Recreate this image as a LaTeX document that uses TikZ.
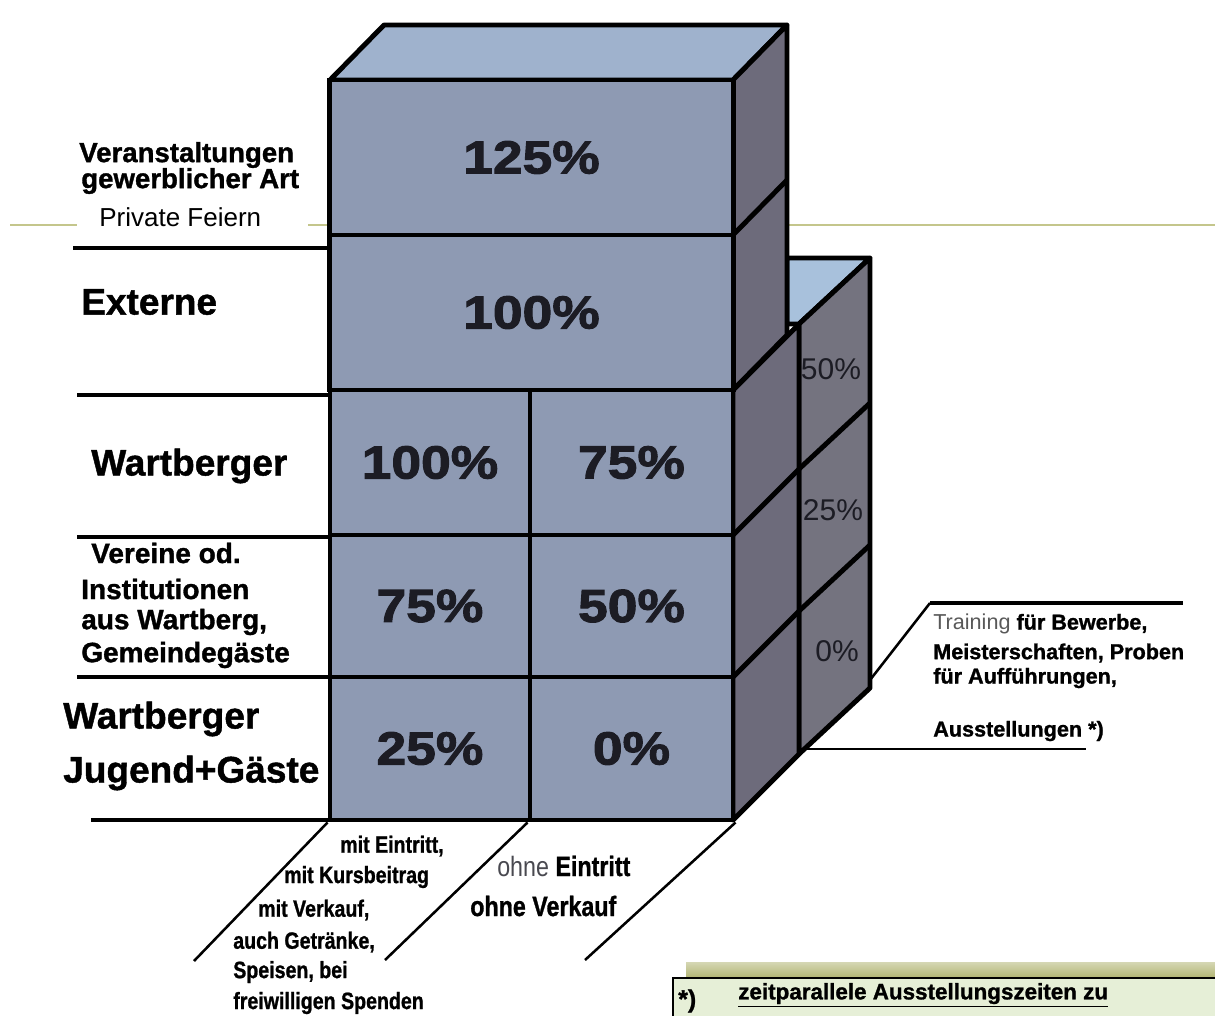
\documentclass[tikz,border=0pt]{standalone}
\usepackage{fontspec}
\setmainfont{Liberation Sans}[BoldFeatures={FakeBold=1.2}]
\newfontfamily\widefont{Liberation Sans}[FakeStretch=1.15, BoldFeatures={FakeStretch=1.15, FakeBold=2.2}]
\newfontfamily\narrowfont{Liberation Sans}[FakeStretch=0.83, BoldFeatures={FakeStretch=0.83, FakeBold=1}]
\usepackage{xcolor}
\usepackage{tikz}
\definecolor{frontcolor}{HTML}{8E9AB3}
\definecolor{topcolor}{HTML}{9FB2CD}
\definecolor{sidecolor}{HTML}{6D6B7B}
\definecolor{smalltopcolor}{HTML}{A8C1DC}
\definecolor{smallsidecolor}{HTML}{74737F}
\definecolor{olivecolor}{HTML}{C4C68C}
\definecolor{bandcolor}{HTML}{B3B676}
\definecolor{notecolor}{HTML}{E6EFD7}
\definecolor{inkcolor}{HTML}{1C1C24}
\begin{document}
\begin{tikzpicture}[x=0.025cm, y=-0.025cm,
  cubeline/.style={line width=3.5pt, line join=round},
  cellbox/.style={draw, rectangle, line width=3.5pt, fill=frontcolor, inner sep=0pt, text=inkcolor, font=\widefont\bfseries\fontsize{1.16cm}{1.4cm}\selectfont},
  rowrule/.style={line width=2.8pt},
  guideline/.style={line width=1.8pt},
  bigtag/.style={anchor=west, inner sep=0pt, font=\bfseries\fontsize{0.925cm}{1.1cm}\selectfont},
  midtag/.style={anchor=west, inner sep=0pt, font=\bfseries\fontsize{0.7cm}{0.84cm}\selectfont},
  smallpct/.style={inner sep=0pt, text=inkcolor, font=\fontsize{0.75cm}{0.9cm}\selectfont},
  listtag/.style={anchor=west, inner sep=0pt, font=\narrowfont\bfseries\fontsize{0.59cm}{0.7cm}\selectfont},
  lowtag/.style={anchor=west, inner sep=0pt, font=\narrowfont\fontsize{0.7cm}{0.84cm}\selectfont},
  sidetag/.style={anchor=west, inner sep=0pt, font=\bfseries\fontsize{0.54cm}{0.65cm}\selectfont}]%
\useasboundingbox (0,0) rectangle (1215,1015);%
\clip (0,0) rectangle (1215,1015);%
\draw[line width=2.1pt, olivecolor] (10,225) -- (77,225);%
\draw[line width=2.1pt, olivecolor] (308,225) -- (1215,225);%
\draw[rowrule] (73,248) -- (330,248);%
\draw[rowrule] (77,395) -- (330,395);%
\draw[rowrule] (77,537) -- (330,537);%
\draw[rowrule] (77,677) -- (330,677);%
\draw[rowrule] (91,820) -- (330,820);%
\draw[cubeline, fill=smalltopcolor] (787,258) -- (870,258) -- (799,324) -- (787,324) -- cycle;%
\draw[cubeline, fill=smallsidecolor] (799,324) -- (870,258) -- (870,688) -- (799,754) -- cycle;%
\node[smallpct] (p50) at (831,369) {50\%};%
\node[smallpct] (p25) at (833,510) {25\%};%
\node[smallpct] (p0) at (837,651) {0\%};%
\draw[cubeline] (799,469) -- (870,403);%
\draw[cubeline] (799,611) -- (870,545);%
\draw[cubeline, fill=sidecolor] (733,390) -- (799,324) -- (799,754) -- (733,820) -- cycle;%
\draw[cubeline] (733,535) -- (799,469);%
\draw[cubeline] (733,677) -- (799,611);%
\draw[cubeline, fill=topcolor] (330,80) -- (384,25) -- (787,25) -- (733,80) -- cycle;%
\draw[cubeline, fill=sidecolor] (733,80) -- (787,25) -- (787,335) -- (733,390) -- cycle;%
\draw[cubeline] (733,235) -- (787,180);%
\node[cellbox, minimum width=10.075cm, minimum height=3.875cm] (r1) at (531.5,157.5) {125\%};%
\node[cellbox, minimum width=10.075cm, minimum height=3.875cm] (r2) at (531.5,312.5) {100\%};%
\node[cellbox, minimum width=5cm, minimum height=3.625cm] (r3a) at (430,462.5) {100\%};%
\node[cellbox, minimum width=5.075cm, minimum height=3.625cm] (r3b) at (631.5,462.5) {75\%};%
\node[cellbox, minimum width=5cm, minimum height=3.55cm] (r4a) at (430,606) {75\%};%
\node[cellbox, minimum width=5.075cm, minimum height=3.55cm] (r4b) at (631.5,606) {50\%};%
\node[cellbox, minimum width=5cm, minimum height=3.575cm] (r5a) at (430,748.5) {25\%};%
\node[cellbox, minimum width=5.075cm, minimum height=3.575cm] (r5b) at (631.5,748.5) {0\%};%
\coordinate (f1) at (194,961);%
\coordinate (f2) at (385,960);%
\coordinate (f3) at (585,960);%
\draw[guideline] (r5a.south west) -- (f1);%
\draw[guideline] (r5b.south west) -- (f2);%
\draw[guideline] (r5b.south east) -- (f3);%
\coordinate (s1) at (870,680);%
\coordinate (s2) at (930,603);%
\coordinate (s3) at (1183,603);%
\coordinate (s4) at (802,749);%
\coordinate (s5) at (1086,749);%
\draw[guideline] (s1) -- (s2);%
\draw[rowrule] (s2) -- (s3);%
\draw[line width=1.6pt] (s4) -- (s5);%
\node[anchor=west, inner sep=0pt, font=\bfseries\fontsize{0.69cm}{0.8cm}\selectfont] (vera) at (79,155) {Veranstaltungen};%
\node[anchor=west, inner sep=0pt, font=\bfseries\fontsize{0.69cm}{0.8cm}\selectfont] (gewa) at (81,181) {gewerblicher Art};%
\node[anchor=west, inner sep=0pt, font=\fontsize{0.65cm}{0.78cm}\selectfont] (priv) at (99,217) {Private Feiern};%
\node[bigtag] (ext) at (81,302) {Externe};%
\node[bigtag] (wart) at (91,466) {Wartberger};%
\node[midtag] (ver) at (91,553) {Vereine od.};%
\node[midtag] (inst) at (81,589) {Institutionen};%
\node[midtag] (ausw) at (81,622) {aus Wartberg,};%
\node[midtag] (gem) at (81,655) {Gemeindegäste};%
\node[bigtag] (wartj) at (63,719) {Wartberger};%
\node[bigtag] (jug) at (63,773) {Jugend+Gäste};%
\node[listtag] (l1) at (340,846) {mit Eintritt,};%
\node[listtag] (l2) at (284,877) {mit Kursbeitrag};%
\node[listtag] (l3) at (258,910) {mit Verkauf,};%
\node[listtag] (l4) at (233,942) {auch Getränke,};%
\node[listtag] (l5) at (233,972) {Speisen, bei};%
\node[listtag] (l6) at (233,1003) {freiwilligen Spenden};%
\node[lowtag] (o1) at (497,866) {\textcolor{inkcolor!80}{ohne} \textbf{Eintritt}};%
\node[lowtag] (o2) at (470,906) {\textbf{ohne Verkauf}};%
\node[sidetag] (t1) at (933,624) {\textcolor{black!65}{\mdseries Training} für Bewerbe,};%
\node[sidetag] (t2) at (933,653) {Meisterschaften, Proben};%
\node[sidetag] (t3) at (933,678) {für Aufführungen,};%
\node[sidetag] (t4) at (933,731) {Ausstellungen *)};%
\shade[top color=bandcolor!55, bottom color=bandcolor] (686,962) rectangle (1215,977);%
\draw[line width=1.6pt, fill=notecolor] (673,978) rectangle (1240,1040);%
\node[anchor=west, inner sep=0pt, font=\bfseries\fontsize{0.62cm}{0.7cm}\selectfont] (star) at (678,1001) {*)};%
\node[anchor=west, inner sep=0pt, font=\bfseries\fontsize{0.56cm}{0.7cm}\selectfont] (note) at (738,995) {\underline{zeitparallele Ausstellungszeiten zu}};%
\end{tikzpicture}
\end{document}
